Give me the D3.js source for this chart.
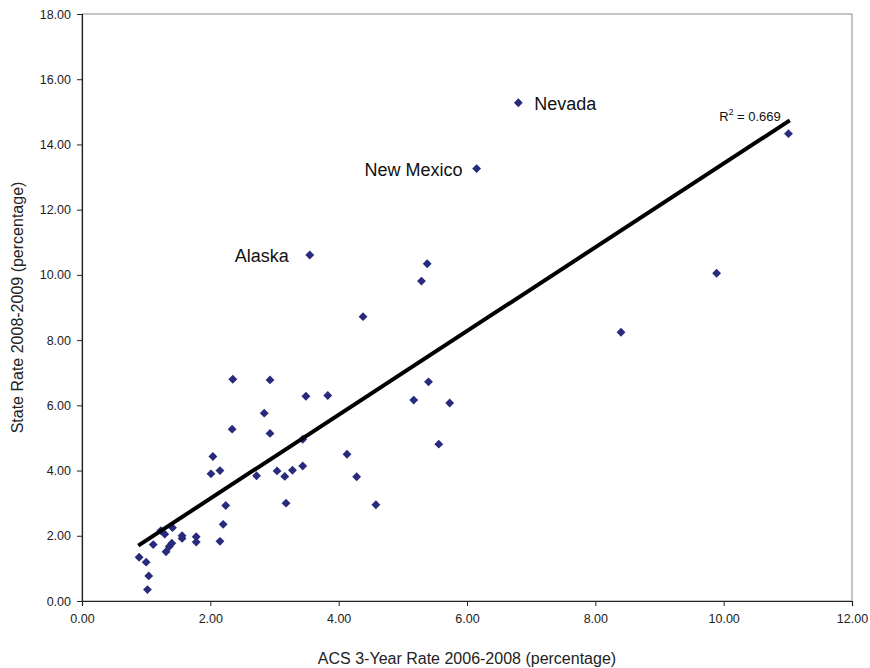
<!DOCTYPE html>
<html><head><meta charset="utf-8">
<script src="https://cdn.jsdelivr.net/npm/d3@7"></script>
<style>body{margin:0;background:#fff}svg{display:block}text{font-family:"Liberation Sans",Arial,sans-serif}</style>
</head><body>
<svg id="c" width="870" height="668"></svg>
<script>
// ACS 3-year rate (x) and state rate (y), percentages
const acsRate = [0.89,1.00,1.04,1.02,1.11,1.23,1.29,1.41,1.31,1.36,1.40,1.56,1.56,1.78,1.78,2.15,2.20,2.24,
  2.35,2.93,3.49,3.83,2.84,2.34,2.93,3.44,2.04,4.13,2.01,2.15,2.72,3.04,3.16,3.28,3.44,4.28,3.18,4.58,
  3.55,5.38,5.29,4.38,5.40,5.17,5.73,5.56,6.80,6.15,9.89,8.40,11.01];
const stateRate = [1.34,1.19,0.77,0.35,1.73,2.16,2.05,2.25,1.51,1.67,1.77,2.00,1.92,1.97,1.81,1.83,2.35,2.93,
  6.80,6.78,6.28,6.30,5.76,5.27,5.14,4.96,4.43,4.50,3.90,4.00,3.84,3.99,3.82,4.01,4.14,3.81,3.00,2.95,
  10.61,10.34,9.81,8.72,6.72,6.16,6.07,4.81,15.28,13.26,10.05,8.24,14.33];
const labelNames = ["Nevada","New Mexico","Alaska"];
const labelX = [6.80,6.15,3.55];
const labelY = [15.28,13.26,10.61];
const labelSide = ["right","left","left"];
const xTicks = [0,2,4,6,8,10,12];
const yTicks = [0,2,4,6,8,10,12,14,16,18];
const trendX = [0.877,11.03];
const trendSlope = 1.284, trendIntercept = 0.574;
const r2Text = "0.669";

const svg = d3.select("#c");
const L=82,R=852,T=14,B=601;
const x = d3.scaleLinear().domain([0,12]).range([L,R]);
const y = d3.scaleLinear().domain([0,18]).range([B,T]);
const labelGap = [16,14,21]; // layout: horizontal gap between point and its label

// plot area border
svg.append("rect").attr("x",L).attr("y",T).attr("width",R-L).attr("height",B-T)
  .attr("fill","none").attr("stroke","#8c8c8c").attr("stroke-width",1);

const fmt = d3.format(".2f");
const xa = svg.append("g").attr("transform",`translate(0,${B})`)
  .call(d3.axisBottom(x).tickValues(xTicks).tickFormat(fmt).tickSize(5).tickPadding(8));
const ya = svg.append("g").attr("transform",`translate(${L},0)`)
  .call(d3.axisLeft(y).tickValues(yTicks).tickFormat(fmt).tickSize(5).tickPadding(6));
[xa,ya].forEach(a=>{
  a.selectAll("path").attr("stroke","#222").attr("stroke-width",1.2);
  a.selectAll("line").attr("stroke","#222");
  a.selectAll("text").attr("font-size",12.5).attr("fill","#222");
});

// points
const pts = acsRate.map((v,i)=>({x:v,y:stateRate[i]}));
svg.append("g").selectAll("path").data(pts).join("path")
  .attr("d",d3.symbol().type(d3.symbolDiamond2).size(50))
  .attr("transform",d=>`translate(${x(d.x)},${y(d.y)})`)
  .attr("fill","#282a7c");

// trendline
svg.append("line")
  .attr("x1",x(trendX[0])).attr("y1",y(trendIntercept+trendSlope*trendX[0]))
  .attr("x2",x(trendX[1])).attr("y2",y(trendIntercept+trendSlope*trendX[1]))
  .attr("stroke","#000").attr("stroke-width",4);

// R2 label
const r2 = svg.append("text").attr("x",x(trendX[1])-9).attr("y",y(trendIntercept+trendSlope*trendX[1])+0.5)
  .attr("text-anchor","end").attr("font-size",13).attr("fill","#111");
r2.append("tspan").text("R");
r2.append("tspan").attr("font-size",8.5).attr("dy",-6).text("2");
r2.append("tspan").attr("dy",6).text(" = "+r2Text);

// state labels
svg.append("g").selectAll("text").data(labelNames).join("text")
  .attr("x",(d,i)=>labelSide[i]==="right"? x(labelX[i])+labelGap[i] : x(labelX[i])-labelGap[i])
  .attr("y",(d,i)=>y(labelY[i])+7)
  .attr("text-anchor",(d,i)=>labelSide[i]==="right"?"start":"end")
  .attr("font-size",18).attr("fill","#111").text(d=>d);

// axis titles
svg.append("text").attr("x",(L+R)/2-0).attr("y",664).attr("text-anchor","middle")
  .attr("font-size",16).attr("fill","#222").text("ACS 3-Year Rate 2006-2008 (percentage)");
svg.append("text").attr("transform",`translate(23,${(T+B)/2}) rotate(-90)`).attr("text-anchor","middle")
  .attr("font-size",16).attr("fill","#222").text("State Rate 2008-2009 (percentage)");
</script>
</body></html>
